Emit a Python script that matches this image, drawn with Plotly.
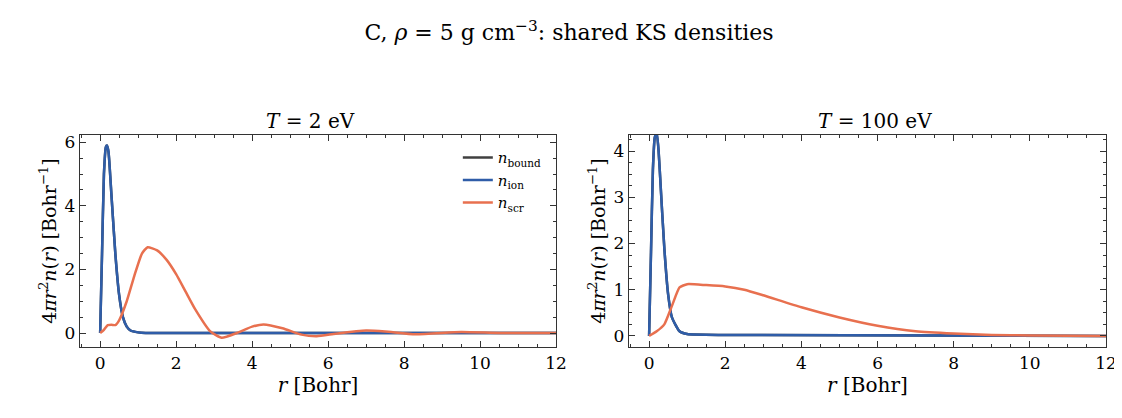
import plotly.graph_objects as go
from plotly.subplots import make_subplots

# T = 2 eV
r_ion_2 = [0, 0.05, 0.1, 0.15, 0.18, 0.22, 0.3, 0.4, 0.5, 0.6, 0.7, 0.8, 1.0, 1.2, 12]
n_ion_2 = [0, 2.5, 5.0, 5.85, 5.9, 5.7, 4.3, 2.5, 1.2, 0.5, 0.2, 0.08, 0.02, 0.0, 0.0]
r_scr_2 = [0, 0.1, 0.2, 0.3, 0.4, 0.5, 0.7, 0.9, 1.1, 1.25, 1.5, 1.75, 2.0, 2.25, 2.5, 2.9, 3.2, 3.6,
           4.0, 4.3, 4.8, 5.3, 5.7, 6.2, 7.0, 7.5, 8.3, 9.5, 10.5, 12]
n_scr_2 = [0, 0.1, 0.25, 0.26, 0.25, 0.4, 1.0, 1.8, 2.5, 2.7, 2.6, 2.3, 1.85, 1.3, 0.75, 0.05, -0.15, 0.0,
           0.2, 0.27, 0.15, -0.05, -0.1, -0.02, 0.08, 0.05, -0.04, 0.03, 0.0, 0.0]

# T = 100 eV
r_ion_100 = [0, 0.05, 0.1, 0.15, 0.2, 0.25, 0.3, 0.4, 0.5, 0.6, 0.8, 1.0, 2.0, 12]
n_ion_100 = [0, 1.8, 3.6, 4.3, 4.4, 4.0, 3.3, 1.9, 0.9, 0.4, 0.1, 0.04, 0.02, 0.0]
r_scr_100 = [0, 0.2, 0.4, 0.6, 0.8, 1.0, 1.5, 2.0, 2.5, 3.0, 4.0, 5.0, 6.0, 7.0, 8.0, 9.0, 10.0, 12]
n_scr_100 = [0, 0.1, 0.25, 0.65, 1.05, 1.12, 1.1, 1.07, 1.0, 0.88, 0.62, 0.4, 0.22, 0.1, 0.05, 0.02, 0.01, 0.0]

BLACK, BLUE, ORANGE = "#404040", "#2f5da8", "#e8704f"
FONT = "DejaVu Serif"

fig = make_subplots(rows=1, cols=2,
                    subplot_titles=["<i>T</i> = 2 eV", "<i>T</i> = 100 eV"])

panels = [(r_ion_2, n_ion_2, r_scr_2, n_scr_2), (r_ion_100, n_ion_100, r_scr_100, n_scr_100)]
for i, (ri, ni, rs, ns) in enumerate(panels, start=1):
    show = i == 1
    ln = lambda c: dict(color=c, width=2.5, shape="spline", smoothing=0.5)
    fig.add_trace(go.Scatter(x=ri, y=ni, mode="lines", line=ln(BLACK),
                             name="<i>n</i><sub>bound</sub>", showlegend=show), row=1, col=i)
    fig.add_trace(go.Scatter(x=ri, y=ni, mode="lines", line=ln(BLUE),
                             name="<i>n</i><sub>ion</sub>", showlegend=show), row=1, col=i)
    fig.add_trace(go.Scatter(x=rs, y=ns, mode="lines", line=ln(ORANGE),
                             name="<i>n</i><sub>scr</sub>", showlegend=show), row=1, col=i)

axis_style = dict(showline=True, mirror="allticks", linecolor="#333", linewidth=1.3,
                  ticks="inside", ticklen=6, tickcolor="#333", showgrid=False, zeroline=False,
                  minor=dict(ticks="inside", ticklen=3, tickcolor="#333"),
                  tickfont=dict(size=17))
for c in (1, 2):
    fig.update_xaxes(axis_style, range=[-0.53, 12], dtick=2, minor_dtick=0.5,
                     title_text="<i>r</i> [Bohr]", title_font_size=20, title_standoff=4, row=1, col=c)
    fig.update_yaxes(axis_style, title_text="4<i>πr</i><sup>2</sup><i>n</i>(<i>r</i>) [Bohr<sup>−1</sup>]",
                     title_font_size=19, title_standoff=2, row=1, col=c)
fig.update_xaxes(domain=[0, 0.464], row=1, col=1)
fig.update_xaxes(domain=[0.535, 1], row=1, col=2)
fig.update_yaxes(range=[-0.44, 6.23], dtick=2, minor_dtick=0.5, row=1, col=1)
fig.update_yaxes(range=[-0.24, 4.35], dtick=1, minor_dtick=0.25, row=1, col=2)

for a in fig.layout.annotations:
    a.font = dict(size=20, family=FONT, color="black")

fig.update_layout(
    width=1122, height=418, template="none",
    paper_bgcolor="white", plot_bgcolor="white",
    font=dict(family=FONT, color="black"),
    title=dict(text="C, <i>ρ</i> = 5 g cm<sup>−3</sup>: shared KS densities", x=0.5, y=0.96,
               xanchor="center", font=dict(size=22)),
    margin=dict(l=72, r=24, t=127, b=79),
    legend=dict(x=0.455, y=0.97, xanchor="right", yanchor="top", font=dict(size=15),
                bgcolor="rgba(0,0,0,0)"),
)

fig.write_html("out.html")
